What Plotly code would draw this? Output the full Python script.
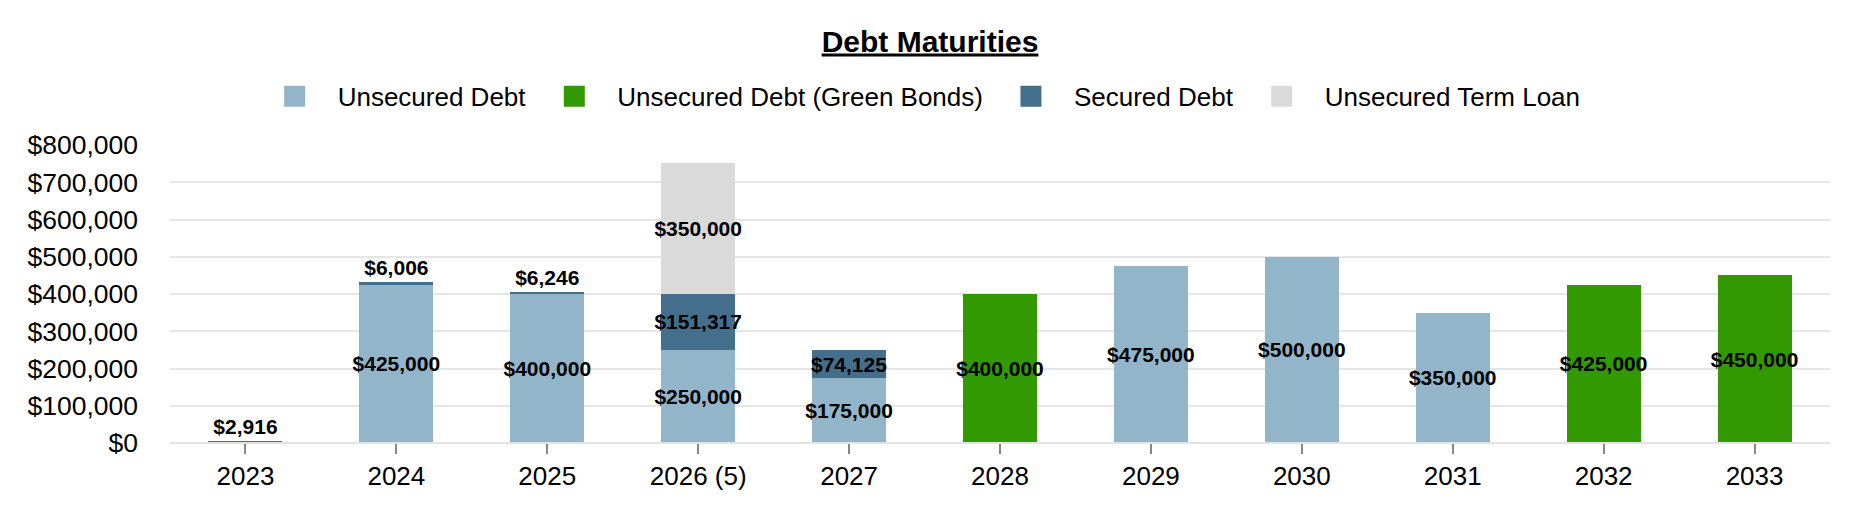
import plotly.graph_objects as go

categories = ["2023", "2024", "2025", "2026 (5)", "2027", "2028", "2029", "2030", "2031", "2032", "2033"]
unsecured_debt = [None, 425000, 400000, 250000, 175000, None, 475000, 500000, 350000, None, None]
green_bonds = [None, None, None, None, None, 400000, None, None, None, 425000, 450000]
secured_debt = [2916, 6006, 6246, 151317, 74125, None, None, None, None, None, None]
term_loan = [None, None, None, 350000, None, None, None, None, None, None, None]
secured_text_pos = ["outside", "outside", "outside", "inside", "inside",
                    "inside", "inside", "inside", "inside", "inside", "inside"]

y_tickvals = [0, 100000, 200000, 300000, 400000, 500000, 600000, 700000, 800000]
y_ticktext = ["${:,}".format(v) for v in y_tickvals]

FONT = "Liberation Sans, Arial, sans-serif"
C_UNSEC = "#93b5c9"
C_GREEN = "#339900"
C_SEC = "#446f8c"
C_TERM = "#dadada"

series = [
    ("Unsecured Debt", unsecured_debt, C_UNSEC, "inside"),
    ("Unsecured Debt (Green Bonds)", green_bonds, C_GREEN, "inside"),
    ("Secured Debt", secured_debt, C_SEC, secured_text_pos),
    ("Unsecured Term Loan", term_loan, C_TERM, "inside"),
]

fig = go.Figure()
for name, vals, color, tpos in series:
    fig.add_trace(go.Bar(
        x=categories, y=vals, name=name,
        marker=dict(color=color, line=dict(width=0)),
        texttemplate="<b>$%{y:,.0f}</b>",
        textposition=tpos,
        textangle=0,
        insidetextanchor="middle",
        constraintext="none",
        cliponaxis=False,
        textfont=dict(family=FONT, size=21, color="black"),
        insidetextfont=dict(family=FONT, size=21, color="black"),
        outsidetextfont=dict(family=FONT, size=21, color="black"),
        showlegend=False,
        hoverinfo="skip",
    ))

for name, vals, color, tpos in series:
    # legend proxy
    fig.add_trace(go.Scatter(
        x=[None], y=[None], name=name, mode="markers",
        marker=dict(symbol="square", size=16, color=color,
                    line=dict(color=color, width=5)),
        showlegend=True, hoverinfo="skip",
    ))

fig.update_layout(
    width=1860, height=520,
    margin=dict(l=170, r=30, t=145, b=77, autoexpand=False),
    barmode="stack",
    bargap=0.51,
    plot_bgcolor="white",
    paper_bgcolor="white",
    font=dict(family=FONT, size=26, color="black"),
    title=dict(
        text="<b><u>Debt Maturities</u></b>",
        x=0.5, xanchor="center", y=1 - 41 / 520, yanchor="middle",
        yref="container",
        font=dict(family=FONT, size=30, color="black"),
    ),
    legend=dict(
        orientation="h", x=0.451, xanchor="center",
        y=1.163, yanchor="middle",
        traceorder="normal",
        font=dict(family=FONT, size=26, color="black"),
        itemwidth=76,
        itemsizing="trace",
        bgcolor="rgba(0,0,0,0)",
    ),
    xaxis=dict(
        type="category",
        showgrid=False,
        showline=False,
        automargin=False,
        ticks="outside", ticklen=10, tickwidth=1.5, tickcolor="#888888",
        ticklabelstandoff=0,
        tickfont=dict(family=FONT, size=26, color="black"),
        range=[-0.5, 10.5],
    ),
    yaxis=dict(
        range=[0, 800000],
        tickvals=y_tickvals,
        ticktext=y_ticktext,
        automargin=False,
        showgrid=True, gridcolor="#e6e6e6", gridwidth=2,
        zeroline=True, zerolinecolor="#e3e3e3", zerolinewidth=2,
        showline=False,
        ticks="",
        ticklabelstandoff=31,
        tickfont=dict(family=FONT, size=26.5, color="black"),
    ),
)

try:
    fig.update_yaxes(zerolinelayer="above traces")
except Exception:
    pass

fig.write_html(
    "out.html",
    config={"displayModeBar": False},
    post_script="document.body.style.margin='0px';",
)
